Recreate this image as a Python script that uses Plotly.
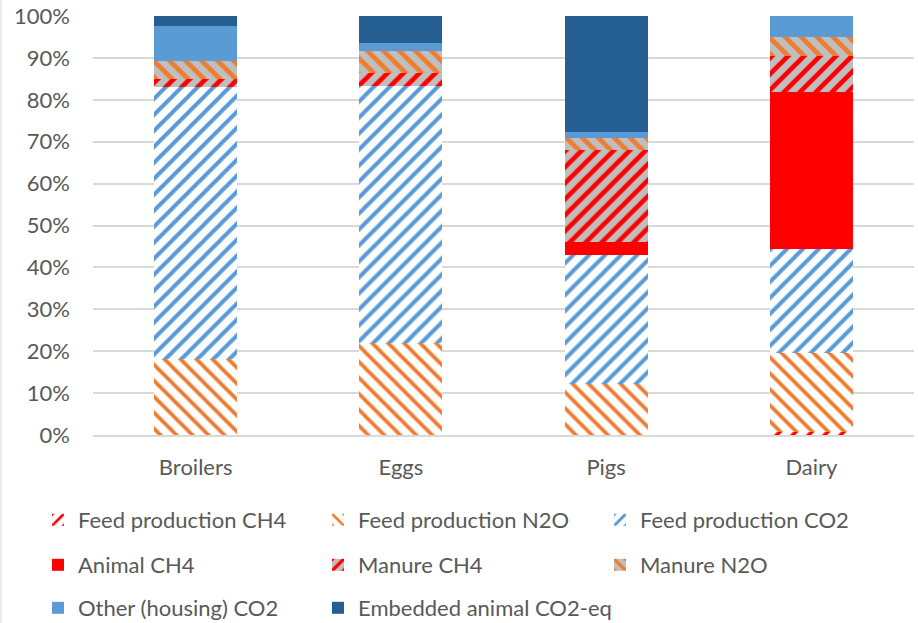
import plotly.graph_objects as go

# Farm categories and emission shares (% of total CO2-eq per product)
categories = ["Broilers", "Eggs", "Pigs", "Dairy"]

feed_ch4 = [0.0, 0.0, 0.0, 0.8]
feed_n2o = [18.1, 21.9, 12.1, 18.7]
feed_co2 = [65.0, 61.4, 30.8, 25.0]
animal_ch4 = [0.0, 0.0, 3.1, 37.4]
manure_ch4 = [1.9, 3.1, 22.1, 8.6]
manure_n2o = [4.3, 5.3, 2.9, 4.5]
other_co2 = [8.3, 1.9, 1.4, 5.0]
embedded_co2 = [2.4, 6.4, 27.6, 0.0]

tick_vals = [0, 10, 20, 30, 40, 50, 60, 70, 80, 90, 100]
tick_text = ["0%", "10%", "20%", "30%", "40%", "50%", "60%", "70%", "80%", "90%", "100%"]

RED = "#FF0000"
ORANGE = "#ED7D31"
BLUE = "#5B9BD5"
DARK_BLUE = "#255E91"
GRAY = "#BFBFBF"
WHITE = "#FFFFFF"

FONT = "Lato, 'Open Sans', sans-serif"
TEXT_COLOR = "#595959"
FS = 22

# name, values, fill description, legend (column, row)
series = [
    ("Feed production CH4", feed_ch4, dict(shape="/", fg=RED, bg=WHITE, sol=0.33), (0, 0)),
    ("Feed production N2O", feed_n2o, dict(shape="\\", fg=ORANGE, bg=WHITE, sol=0.33), (1, 0)),
    ("Feed production CO2", feed_co2, dict(shape="/", fg=BLUE, bg=WHITE, sol=0.36), (2, 0)),
    ("Animal CH4", animal_ch4, dict(solid=RED), (0, 1)),
    ("Manure CH4", manure_ch4, dict(shape="/", fg=RED, bg=GRAY, sol=0.42), (1, 1)),
    ("Manure N2O", manure_n2o, dict(shape="\\", fg=ORANGE, bg=GRAY, sol=0.42), (2, 1)),
    ("Other (housing) CO2", other_co2, dict(solid=BLUE), (0, 2)),
    ("Embedded animal CO2-eq", embedded_co2, dict(solid=DARK_BLUE), (1, 2)),
]

# Plot area spans 821 px horizontally and 419 px vertically
plot_h = 419.0
plot_w = 821.0
left = 93
legend_cols_px = [38, 318, 600]
legend_rows_px = [520, 565, 608]

fig = go.Figure()
legend_layout = {}
for i, (name, vals, fill, (col, row)) in enumerate(series):
    if "solid" in fill:
        marker = dict(color=fill["solid"], line=dict(width=0))
    else:
        marker = dict(
            color=fill["fg"],
            line=dict(width=0),
            pattern=dict(
                shape=fill["shape"],
                fgcolor=fill["fg"],
                bgcolor=fill["bg"],
                fillmode="replace",
                size=11.3,
                solidity=fill["sol"],
            ),
        )
    leg_id = "legend" if i == 0 else f"legend{i + 1}"
    fig.add_trace(go.Bar(x=categories, y=vals, name=name, marker=marker, legend=leg_id))
    legend_layout[leg_id] = dict(
        orientation="h",
        x=(legend_cols_px[col] - left) / plot_w,
        xanchor="left",
        y=(435 - legend_rows_px[row]) / plot_h,
        yanchor="middle",
        font=dict(family=FONT, size=FS, color=TEXT_COLOR),
        bgcolor="rgba(0,0,0,0)",
    )

fig.update_layout(
    width=918,
    height=623,
    margin=dict(l=93, r=4, t=16, b=188, autoexpand=False),
    paper_bgcolor="white",
    plot_bgcolor="white",
    barmode="stack",
    bargap=0.596,
    font=dict(family=FONT, size=FS, color=TEXT_COLOR),
    showlegend=True,
    xaxis=dict(
        showgrid=False,
        showline=True,
        linecolor="#D9D9D9",
        linewidth=2,
        ticks="",
        tickfont=dict(family=FONT, size=FS, color=TEXT_COLOR),
        ticklabelstandoff=12,
    ),
    yaxis=dict(
        range=[0, 100],
        tickmode="array",
        tickvals=tick_vals,
        ticktext=tick_text,
        showgrid=True,
        gridcolor="#D9D9D9",
        gridwidth=2,
        zeroline=False,
        showline=False,
        ticks="",
        tickfont=dict(family=FONT, size=FS, color=TEXT_COLOR),
        ticklabelstandoff=22,
    ),
    shapes=[
        dict(
            type="line", xref="paper", yref="paper",
            x0=(1 - left) / plot_w, x1=(1 - left) / plot_w,
            y0=(435 - 623) / plot_h, y1=435 / plot_h,
            line=dict(color="#D9D9D9", width=1),
        )
    ],
    **legend_layout,
)

fig.write_html("out.html")
